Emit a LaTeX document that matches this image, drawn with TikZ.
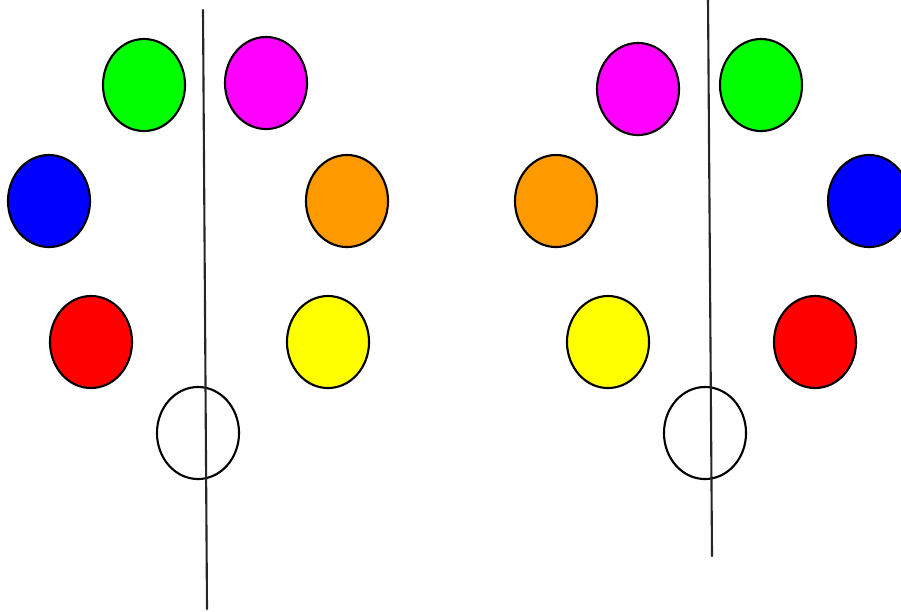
\documentclass[tikz,border=0pt]{standalone}
\usetikzlibrary{shapes.geometric}
\definecolor{ballgreen}{HTML}{00FF00}
\definecolor{ballmagenta}{HTML}{FF00FF}
\definecolor{ballblue}{HTML}{0000FF}
\definecolor{ballorange}{HTML}{FF9900}
\definecolor{ballred}{HTML}{FF0000}
\definecolor{ballyellow}{HTML}{FFFF00}
\begin{document}
\begin{tikzpicture}[x=0.01cm, y=-0.01cm, line cap=round,
  ball/.style={ellipse, draw=black, line width=0.6pt, inner sep=0pt,
    minimum width=0.82cm, minimum height=0.92cm},
  axisline/.style={draw=black!85, line width=0.6pt}]
\useasboundingbox (0,0) rectangle (901,611);
\clip (0,0) rectangle (901,611);
% left group
\node[ball, fill=ballgreen] (lgreen) at (144,85) {};
\node[ball, fill=ballmagenta] (lmagenta) at (266,83) {};
\node[ball, fill=ballblue] (lblue) at (49,201) {};
\node[ball, fill=ballorange] (lorange) at (347,201) {};
\node[ball, fill=ballred] (lred) at (91,342) {};
\node[ball, fill=ballyellow] (lyellow) at (328,342) {};
\node[ball, fill=white] (lwhite) at (198,433) {};
\coordinate (ltop) at (203,10);
\coordinate (lbot) at (207,609);
\draw[axisline] (ltop) -- (lbot);
% right group
\node[ball, fill=ballmagenta] (rmagenta) at (638,89) {};
\node[ball, fill=ballgreen] (rgreen) at (761,85) {};
\node[ball, fill=ballorange] (rorange) at (556,201) {};
\node[ball, fill=ballblue] (rblue) at (869,201) {};
\node[ball, fill=ballyellow] (ryellow) at (608,342) {};
\node[ball, fill=ballred] (rred) at (815,342) {};
\node[ball, fill=white] (rwhite) at (705,433) {};
\coordinate (rtop) at (708,0);
\coordinate (rbot) at (712,556);
\draw[axisline] (rtop) -- (rbot);
\end{tikzpicture}
\end{document}
